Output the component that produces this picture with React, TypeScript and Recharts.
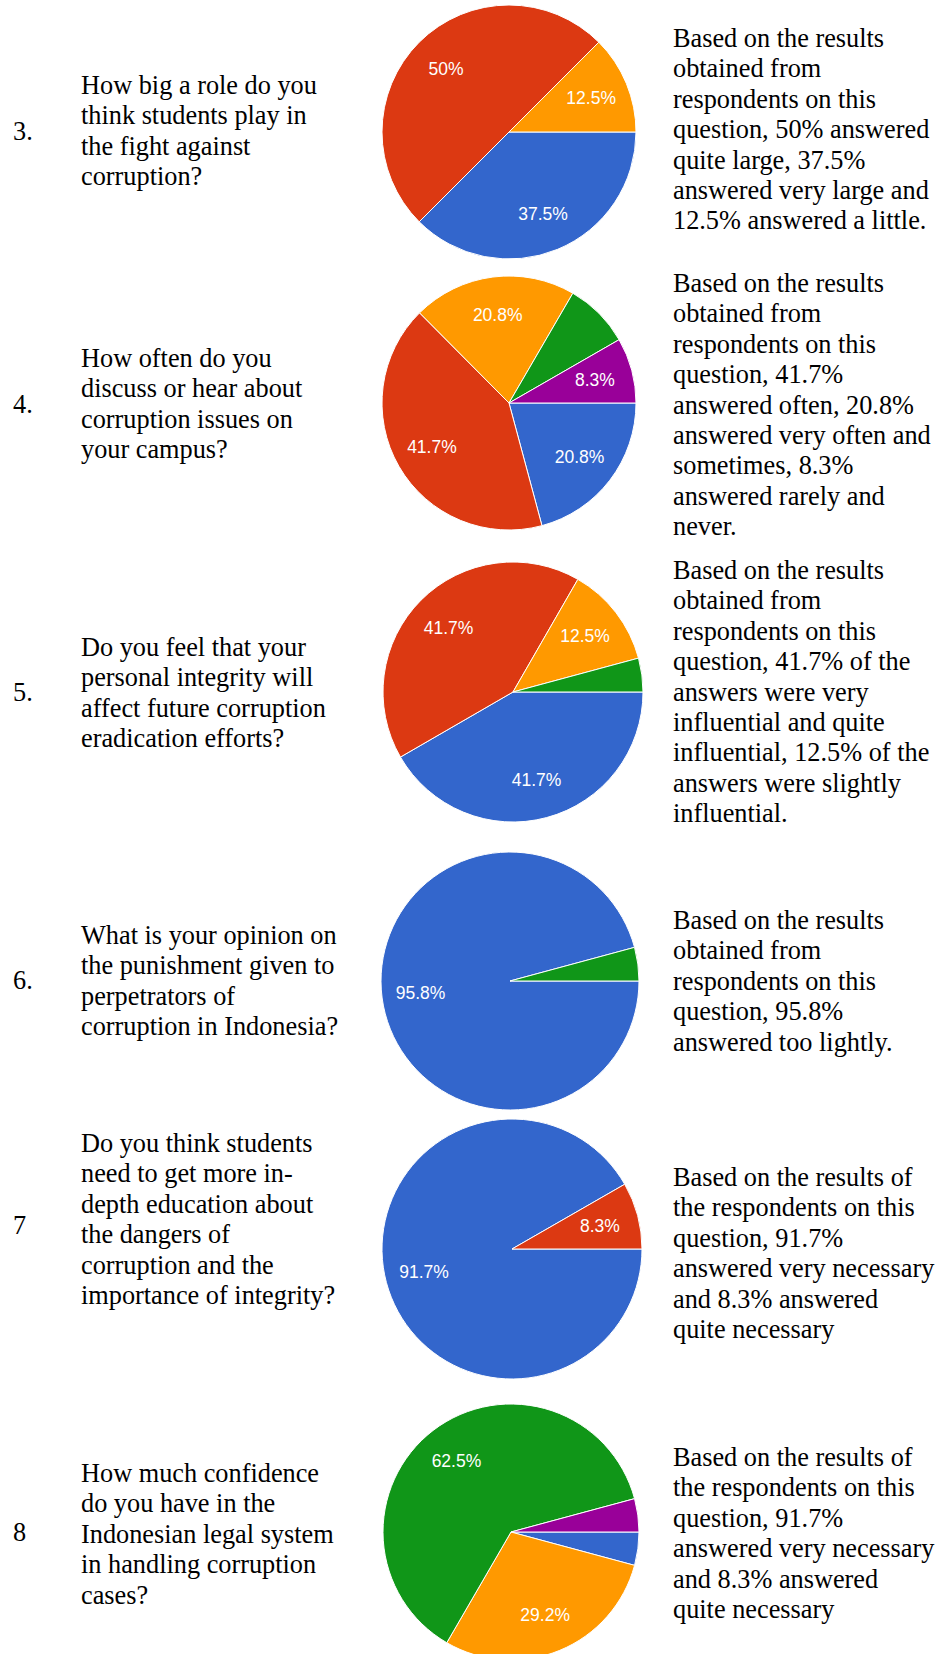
import React from "react";
import { PieChart, Pie, Cell } from "recharts";

const BLUE = "#3366cc";
const RED = "#dc3912";
const ORANGE = "#ff9900";
const GREEN = "#109618";
const PURPLE = "#990099";

// question 3
const q3Names = ["Very large", "Quite large", "A little"];
const q3Values = [37.5, 50, 12.5];
const q3Colors = [BLUE, RED, ORANGE];

// question 4 (the "Rarely" slice carries no label in the original)
const q4Names = ["Very often", "Often", "Sometimes", "Rarely", "Never"];
const q4Values = [20.8, 41.7, 20.8, 8.3, 8.3];
const q4Colors = [BLUE, RED, ORANGE, GREEN, PURPLE];
const q4NoLabel = ["Rarely"];

// question 5
const q5Names = ["Very influential", "Quite influential", "Slightly influential", "Not influential"];
const q5Values = [41.7, 41.7, 12.5, 4.2];
const q5Colors = [BLUE, RED, ORANGE, GREEN];

// question 6
const q6Names = ["Too lightly", "Too heavy"];
const q6Values = [95.8, 4.2];
const q6Colors = [BLUE, GREEN];

// question 7
const q7Names = ["Very necessary", "Quite necessary"];
const q7Values = [91.7, 8.3];
const q7Colors = [BLUE, RED];

// question 8
const q8Names = ["Very confident", "Less confident", "Not confident", "Not at all"];
const q8Values = [4.2, 29.2, 62.5, 4.2];
const q8Colors = [BLUE, ORANGE, GREEN, PURPLE];

const numbers = ["3.", "4.", "5.", "6.", "7", "8"];

const questions = [
  ["How big a role do you", "think students play in", "the fight against", "corruption?"],
  ["How often do you", "discuss or hear about", "corruption issues on", "your campus?"],
  ["Do you feel that your", "personal integrity will", "affect future corruption", "eradication efforts?"],
  ["What is your opinion on", "the punishment given to", "perpetrators of", "corruption in Indonesia?"],
  [
    "Do you think students",
    "need to get more in-",
    "depth education about",
    "the dangers of",
    "corruption and the",
    "importance of integrity?",
  ],
  ["How much confidence", "do you have in the", "Indonesian legal system", "in handling corruption", "cases?"],
];

const descriptions = [
  [
    "Based on the results",
    "obtained from",
    "respondents on this",
    "question, 50% answered",
    "quite large, 37.5%",
    "answered very large and",
    "12.5% answered a little.",
  ],
  [
    "Based on the results",
    "obtained from",
    "respondents on this",
    "question, 41.7%",
    "answered often, 20.8%",
    "answered very often and",
    "sometimes, 8.3%",
    "answered rarely and",
    "never.",
  ],
  [
    "Based on the results",
    "obtained from",
    "respondents on this",
    "question, 41.7% of the",
    "answers were very",
    "influential and quite",
    "influential, 12.5% of the",
    "answers were slightly",
    "influential.",
  ],
  ["Based on the results", "obtained from", "respondents on this", "question, 95.8%", "answered too lightly."],
  [
    "Based on the results of",
    "the respondents on this",
    "question, 91.7%",
    "answered very necessary",
    "and 8.3% answered",
    "quite necessary",
  ],
  [
    "Based on the results of",
    "the respondents on this",
    "question, 91.7%",
    "answered very necessary",
    "and 8.3% answered",
    "quite necessary",
  ],
];

const series = [
  { names: q3Names, values: q3Values, colors: q3Colors, noLabel: [] as string[] },
  { names: q4Names, values: q4Values, colors: q4Colors, noLabel: q4NoLabel },
  { names: q5Names, values: q5Values, colors: q5Colors, noLabel: [] as string[] },
  { names: q6Names, values: q6Values, colors: q6Colors, noLabel: [] as string[] },
  { names: q7Names, values: q7Values, colors: q7Colors, noLabel: [] as string[] },
  { names: q8Names, values: q8Values, colors: q8Colors, noLabel: [] as string[] },
];

// layout per row (page pixels)
const layout = [
  { numTop: 117, qTop: 71, dTop: 24, cx: 509, cy: 132, r: 127 },
  { numTop: 390, qTop: 344, dTop: 269, cx: 509, cy: 403, r: 127 },
  { numTop: 678, qTop: 633, dTop: 556, cx: 513, cy: 692, r: 130 },
  { numTop: 966, qTop: 921, dTop: 906, cx: 510, cy: 981, r: 129 },
  { numTop: 1211, qTop: 1129, dTop: 1163, cx: 512, cy: 1249, r: 130 },
  { numTop: 1518, qTop: 1459, dTop: 1443, cx: 511, cy: 1532, r: 128 },
];

const LINE = 30.4;
const serif = "'Liberation Serif', 'Times New Roman', serif";

const RAD = Math.PI / 180;

const makeLabel = (noLabel: string[]) => (props: any) => {
  const { cx, cy, midAngle, outerRadius, percent, value, name } = props;
  if (percent < 0.05 || noLabel.includes(name)) return null;
  const rr = outerRadius * 0.7;
  const x = cx + rr * Math.cos(-midAngle * RAD);
  const y = cy + rr * Math.sin(-midAngle * RAD);
  return (
    <text
      x={x}
      y={y}
      fill="#ffffff"
      textAnchor="middle"
      dominantBaseline="central"
      fontSize={17.5}
      fontFamily="'Liberation Sans', Arial, sans-serif"
    >
      {value}%
    </text>
  );
};

function RowPie({ idx }: { idx: number }) {
  const s = series[idx];
  const l = layout[idx];
  const data = s.names.map((n, i) => ({ name: n, value: s.values[i] }));
  const size = l.r * 2 + 10;
  return (
    <div style={{ position: "absolute", left: l.cx - size / 2, top: l.cy - size / 2 }}>
      <PieChart width={size} height={size} margin={{ top: 0, right: 0, bottom: 0, left: 0 }}>
        <Pie
          data={data}
          dataKey="value"
          nameKey="name"
          cx="50%"
          cy="50%"
          outerRadius={l.r}
          startAngle={0}
          endAngle={-360}
          stroke="#ffffff"
          strokeWidth={1}
          label={makeLabel(s.noLabel)}
          labelLine={false}
          isAnimationActive={false}
        >
          {data.map((d, i) => (
            <Cell key={d.name} fill={s.colors[i]} />
          ))}
        </Pie>
      </PieChart>
    </div>
  );
}

function TextBlock({ lines, left, top }: { lines: string[]; left: number; top: number }) {
  return (
    <div
      style={{
        position: "absolute",
        left,
        top,
        fontFamily: serif,
        fontSize: 26.3,
        lineHeight: `${LINE}px`,
        color: "#000",
        whiteSpace: "nowrap",
      }}
    >
      {lines.map((t, i) => (
        <div key={i}>{t}</div>
      ))}
    </div>
  );
}

export default function App() {
  return (
    <div
      style={{
        position: "absolute",
        left: 0,
        top: 0,
        width: 941,
        height: 1654,
        overflow: "hidden",
        background: "#ffffff",
      }}
    >
      {layout.map((l, i) => (
        <React.Fragment key={i}>
          <TextBlock lines={[numbers[i]]} left={13} top={l.numTop} />
          <TextBlock lines={questions[i]} left={81} top={l.qTop} />
          <RowPie idx={i} />
          <TextBlock lines={descriptions[i]} left={673} top={l.dTop} />
        </React.Fragment>
      ))}
    </div>
  );
}
